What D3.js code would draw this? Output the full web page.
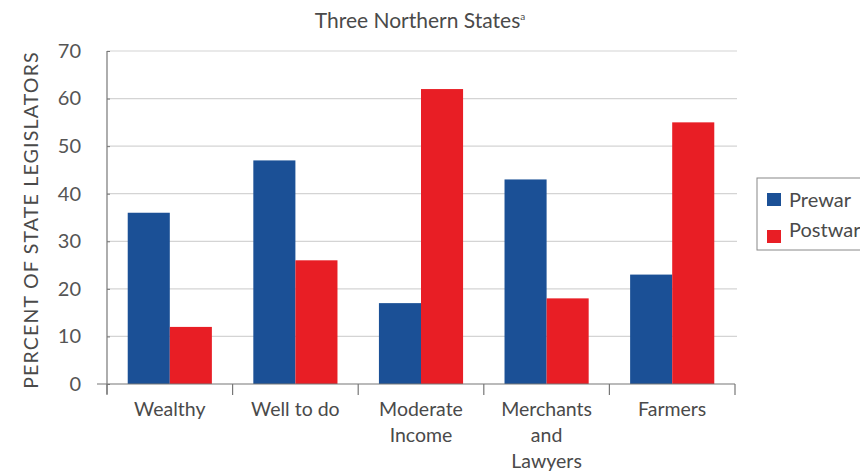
<!DOCTYPE html>
<html><head><meta charset="utf-8">
<script src="https://cdn.jsdelivr.net/npm/d3@7"></script>
<style>body{margin:0;background:#fff}svg{display:block}text{font-family:Lato,"Open Sans",sans-serif;fill:#4a4a4a}</style>
</head><body><svg id="c" width="860" height="474"></svg>
<script>
const categories = [["Wealthy"],["Well to do"],["Moderate","Income"],["Merchants","and","Lawyers"],["Farmers"]];
const seriesNames = ["Prewar","Postwar"];
const prewar = [36, 47, 17, 43, 23];
const postwar = [12, 26, 62, 18, 55];
const yTicks = [0,10,20,30,40,50,60,70];
const colors = ["#1b5096","#e81e25"];

const svg = d3.select("#c");
const m = {l:107, r:735, t:51, b:384};
const x0 = d3.scaleBand().domain(d3.range(categories.length)).range([m.l, m.r]).padding(0);
const x1 = d3.scaleBand().domain(seriesNames).range([x0.bandwidth()*0.165, x0.bandwidth()*0.835]).padding(0);
const y = d3.scaleLinear().domain([0,70]).range([m.b, m.t]);

// gridlines
svg.append("g").selectAll("line").data(yTicks.filter(d=>d>0)).join("line")
  .attr("x1", m.l).attr("x2", m.r+2).attr("y1", d=>y(d)).attr("y2", d=>y(d))
  .attr("stroke", "#d4d4d4").attr("stroke-width", 1.2);

// bars
const data = [prewar, postwar];
const g = svg.append("g");
categories.forEach((c,i)=>{
  seriesNames.forEach((s,j)=>{
    g.append("rect").attr("x", x0(i)+x1(s)).attr("width", x1.bandwidth())
      .attr("y", y(data[j][i])).attr("height", y(0)-y(data[j][i])).attr("fill", colors[j]);
  });
});

// y axis
const ya = svg.append("g").attr("transform", `translate(${m.l},0)`)
  .call(d3.axisLeft(y).tickValues(yTicks).tickSize(10).tickPadding(16));
ya.select(".domain").remove();
ya.selectAll(".tick line").attr("stroke","#777").attr("x2",3);
ya.selectAll(".tick text").style("font-size","20px").style("fill","#555");
svg.append("line").attr("x1",m.l).attr("x2",m.l).attr("y1",m.t).attr("y2",m.b+10).attr("stroke","#777").attr("stroke-width",1.2);

// x axis
svg.append("line").attr("x1",m.l-10).attr("x2",m.r).attr("y1",m.b).attr("y2",m.b).attr("stroke","#777").attr("stroke-width",1.2);
const xt = d3.range(categories.length+1).map(i=> i<categories.length ? x0(i) : x0(i-1)+x0.bandwidth());
svg.append("g").selectAll("line").data(xt).join("line")
  .attr("x1",d=>d).attr("x2",d=>d).attr("y1",m.b).attr("y2",m.b+11).attr("stroke","#777").attr("stroke-width",1.2);
categories.forEach((c,i)=>{
  const t = svg.append("text").attr("x", x0(i)+x0.bandwidth()/2).attr("y", 416)
    .attr("text-anchor","middle").style("font-size","19.5px");
  c.forEach((line,k)=> t.append("tspan").attr("x", x0(i)+x0.bandwidth()/2).attr("dy", k===0?0:26).text(line));
});

// y label
svg.append("text").attr("transform","translate(38,220) rotate(-90)").attr("text-anchor","middle")
  .style("font-size","19.5px").style("letter-spacing","1.2px").text("PERCENT OF STATE LEGISLATORS");

// title
const tt = svg.append("text").attr("x",420).attr("y",28).attr("text-anchor","middle").style("font-size","21px");
tt.append("tspan").text("Three Northern States");
tt.append("tspan").attr("dy",-8).style("font-size","10px").text("a");

// legend
const lg = svg.append("g");
lg.append("rect").attr("x",757).attr("y",178).attr("width",110).attr("height",72).attr("fill","#fff").attr("stroke","#888").attr("stroke-width",1);
const sy = [193, 230];
const ty = [207, 237];
seriesNames.forEach((s,j)=>{
  lg.append("rect").attr("x",767).attr("y",sy[j]).attr("width",14).attr("height",13).attr("fill",colors[j]);
  lg.append("text").attr("x",789).attr("y",ty[j]).style("font-size","20px").text(s);
});
</script></body></html>
